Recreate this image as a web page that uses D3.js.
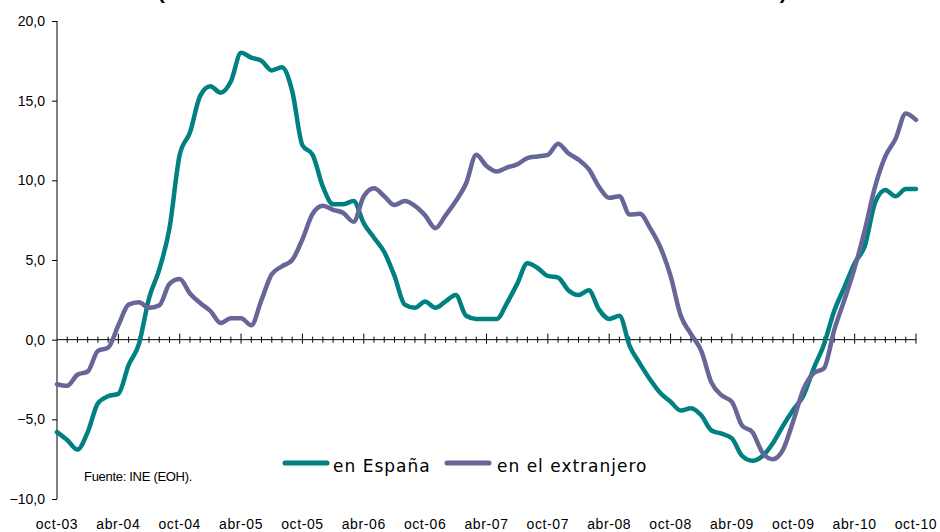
<!DOCTYPE html>
<html>
<head>
<meta charset="utf-8">
<script src="https://cdn.jsdelivr.net/npm/d3@7"></script>
<style>
  body { margin: 0; background: #fff; }
  svg { display: block; font-family: Arial, "Liberation Sans", sans-serif; }
</style>
</head>
<body>
<svg id="chart" width="940" height="532"></svg>
<script>
// monthly, oct-03 .. oct-10
const months = ["oct-03","nov-03","dic-03","ene-04","feb-04","mar-04","abr-04","may-04","jun-04","jul-04","ago-04","sep-04",
  "oct-04","nov-04","dic-04","ene-05","feb-05","mar-05","abr-05","may-05","jun-05","jul-05","ago-05","sep-05",
  "oct-05","nov-05","dic-05","ene-06","feb-06","mar-06","abr-06","may-06","jun-06","jul-06","ago-06","sep-06",
  "oct-06","nov-06","dic-06","ene-07","feb-07","mar-07","abr-07","may-07","jun-07","jul-07","ago-07","sep-07",
  "oct-07","nov-07","dic-07","ene-08","feb-08","mar-08","abr-08","may-08","jun-08","jul-08","ago-08","sep-08",
  "oct-08","nov-08","dic-08","ene-09","feb-09","mar-09","abr-09","may-09","jun-09","jul-09","ago-09","sep-09",
  "oct-09","nov-09","dic-09","ene-10","feb-10","mar-10","abr-10","may-10","jun-10","jul-10","ago-10","sep-10","oct-10"];

const espana = [-5.8,-6.3,-6.9,-5.8,-4.0,-3.55,-3.4,-1.6,-0.3,2.6,4.4,7.0,
  11.6,13.0,15.3,15.9,15.5,16.2,18.0,17.7,17.5,16.9,17.1,15.6,
  12.2,11.6,9.6,8.5,8.5,8.7,7.3,6.4,5.5,4.0,2.2,2.0,
  2.4,2.0,2.4,2.8,1.5,1.3,1.3,1.3,2.3,3.5,4.8,4.5,
  4.0,3.9,3.1,2.8,3.1,1.9,1.3,1.5,-0.4,-1.5,-2.5,-3.35,
  -3.9,-4.45,-4.3,-4.75,-5.7,-5.9,-6.2,-7.3,-7.6,-7.3,-6.5,-5.4,
  -4.4,-3.5,-1.8,-0.3,1.8,3.3,4.8,5.9,8.6,9.4,9.0,9.45,9.45];

const extranjero = [-2.8,-2.9,-2.2,-2.0,-0.7,-0.5,0.9,2.2,2.35,2.0,2.15,3.5,
  3.8,2.9,2.3,1.8,1.05,1.35,1.35,0.9,2.5,4.1,4.6,5.0,
  6.3,7.9,8.4,8.15,7.95,7.4,9.0,9.5,9.0,8.45,8.7,8.4,
  7.8,7.0,7.8,8.7,9.8,11.6,10.9,10.55,10.8,11.0,11.4,11.5,
  11.6,12.3,11.7,11.3,10.7,9.6,8.9,9.0,7.85,7.9,7.0,5.8,
  4.0,1.5,0.35,-0.7,-2.7,-3.5,-3.9,-5.4,-5.8,-7.1,-7.5,-6.9,
  -5.1,-3.1,-2.1,-1.8,0.6,2.5,4.5,6.9,9.6,11.5,12.6,14.2,13.8];

const yTicks = [-10, -5, 0, 5, 10, 15, 20];
const seriesNames = ["en España", "en el extranjero"];
const colors = ["#008080", "#666699"];

const svg = d3.select("#chart");

const x = d3.scaleLinear().domain([0, months.length - 1]).range([57, 916]);
const y = d3.scaleLinear().domain([-10, 20]).range([499, 21]);

// title, cut off by the top edge as in the source image
svg.append("text")
  .attr("x", 473).attr("y", -1)
  .attr("text-anchor", "middle")
  .style("font-size", "21px")
  .style("font-weight", "bold")
  .style("letter-spacing", "1.5px")
  .style("fill", "#000")
  .text("(variación interanual de la media móvil de doce meses)");

// y axis
const yAxis = d3.axisLeft(y)
  .tickValues(yTicks)
  .tickSize(5)
  .tickFormat(d => d3.format(".1f")(d).replace(".", ","));

const gy = svg.append("g")
  .attr("transform", "translate(57,0)")
  .call(yAxis);
gy.select(".domain").attr("stroke", "#000").attr("d", "M0," + y(20) + "V" + y(-10));
gy.selectAll(".tick line").attr("stroke", "#000");
gy.selectAll(".tick text")
  .attr("x", -12)
  .style("font-size", "14px")
  .style("fill", "#000");

// x axis on zero line: minor tick each month, major each 6 months
const gx = svg.append("g").attr("transform", "translate(0," + y(0) + ")");
gx.append("line")
  .attr("x1", x(0)).attr("x2", x(months.length - 1))
  .attr("stroke", "#000");
gx.selectAll(".mt")
  .data(months.map((m, i) => i).filter(i => i > 0))
  .join("line")
    .attr("x1", d => x(d)).attr("x2", d => x(d))
    .attr("y1", d => d % 6 === 0 ? -6 : -3)
    .attr("y2", d => d % 6 === 0 ? 4 : 3)
    .attr("stroke", "#000")
    .attr("stroke-width", 1);

// x labels at the bottom
svg.selectAll(".xl")
  .data(months.map((m, i) => i).filter(i => i % 6 === 0))
  .join("text")
    .attr("x", d => x(d))
    .attr("y", 529)
    .attr("text-anchor", "middle")
    .style("font-size", "14px")
    .style("letter-spacing", "0.6px")
    .style("fill", "#000")
    .text(d => months[d]);

// lines
const line = d3.line()
  .x((d, i) => x(i))
  .y(d => y(d))
  .curve(d3.curveMonotoneX);

[espana, extranjero].forEach((s, k) => {
  svg.append("path")
    .datum(s)
    .attr("fill", "none")
    .attr("stroke", colors[k])
    .attr("stroke-width", 4.5)
    .attr("stroke-linejoin", "round")
    .attr("stroke-linecap", "round")
    .attr("d", line);
});

// source note
svg.append("text")
  .attr("x", 84).attr("y", 481)
  .style("font-size", "13px")
  .style("letter-spacing", "-0.3px")
  .style("fill", "#000")
  .text("Fuente: INE (EOH).");

// legend
const legendX = [285, 447];
const legendTextX = [333, 497];
seriesNames.forEach((n, k) => {
  svg.append("line")
    .attr("x1", legendX[k]).attr("x2", legendX[k] + 42)
    .attr("y1", 463).attr("y2", 463)
    .attr("stroke", colors[k])
    .attr("stroke-width", 5)
    .attr("stroke-linecap", "round");
  svg.append("text")
    .attr("x", legendTextX[k]).attr("y", 472)
    .style("font-family", "'DejaVu Sans', Verdana, sans-serif")
    .style("font-size", "17px")
    .style("letter-spacing", "1px")
    .style("fill", "#000")
    .text(n);
});
</script>
</body>
</html>
